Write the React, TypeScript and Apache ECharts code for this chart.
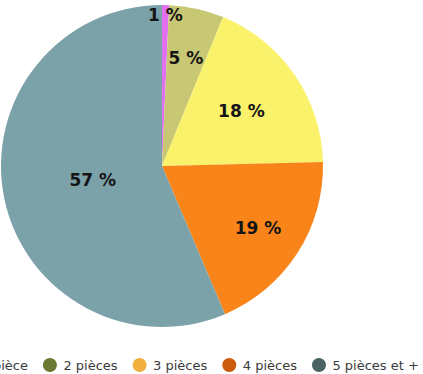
import React, { useEffect, useRef } from "react";
import * as echarts from "echarts";

const categories = ["1 pièce", "2 pièces", "3 pièces", "4 pièces", "5 pièces et +"];
const values = [0.7, 5.5, 18.4, 19.0, 56.4];
const labels = ["1 %", "5 %", "18 %", "19 %", "57 %"];
const sliceColors = ["#e070f0", "#c8c874", "#fbf26c", "#f8841a", "#7aa2a8"];
const legendColors = ["#c050c8", "#6b7a32", "#f0b040", "#cc5c0c", "#4a6464"];
const labelRadiusFrac = [0.92, 0.67, 0.58, 0.69, 0.42];

export default function App() {
  const ref = useRef<HTMLDivElement>(null);
  useEffect(() => {
    if (!ref.current) return;
    const chart = echarts.init(ref.current, null, { renderer: "svg" });
    const R = 161;
    const total = values.reduce((a, b) => a + b, 0);
    let cum = 0;
    const data = values.map((v, i) => {
      const mid = ((cum + v / 2) / total) * Math.PI * 2;
      cum += v;
      const d = labelRadiusFrac[i] * R - R / 2;
      return {
        name: categories[i],
        value: v,
        itemStyle: { color: sliceColors[i] },
        label: {
          formatter: labels[i],
          offset: [d * Math.sin(mid), -d * Math.cos(mid)],
        },
      };
    });
    chart.setOption({
      animation: false,
      legend: {
        data: categories.map((c, i) => ({ name: c, itemStyle: { color: legendColors[i] } })),
        icon: "circle",
        itemWidth: 17,
        itemHeight: 14,
        itemGap: 15,
        padding: 0,
        left: -40,
        top: 358,
        width: 800,
        textStyle: { fontFamily: "DejaVu Sans", fontSize: 13, color: "#3a3a3a" },
      },
      series: [
        {
          type: "pie",
          center: [162, 166],
          radius: [0, R],
          startAngle: 90,
          clockwise: true,
          avoidLabelOverlap: false,
          data,
          label: {
            show: true,
            position: "inside",
            fontFamily: "DejaVu Sans",
            fontWeight: "bold",
            fontSize: 17,
            color: "#151515",
          },
          labelLine: { show: false },
          itemStyle: { borderWidth: 0 },
          emphasis: { disabled: true },
        },
      ],
    });
    return () => chart.dispose();
  }, []);
  return <div ref={ref} style={{ width: 423, height: 374, position: "absolute", left: 0, top: 0 }} />;
}
